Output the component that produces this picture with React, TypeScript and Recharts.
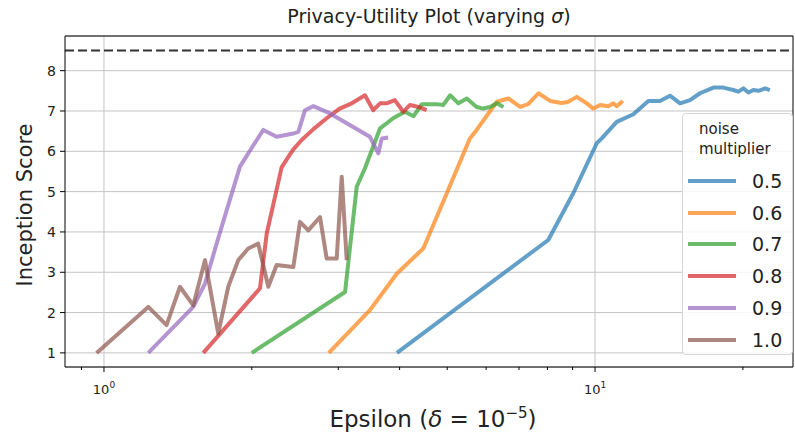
import {
  CartesianGrid,
  Legend,
  Line,
  LineChart,
  ReferenceLine,
  XAxis,
  YAxis,
} from 'recharts'

// epsilon / inception score, one pair of arrays per noise multiplier
const eps05 = [3.95, 8.03, 9.03, 10.08, 10.32, 11.07, 11.97, 12.84, 13.56, 14.21, 14.9, 15.61, 16.36, 17.42, 18.25, 19.12, 19.58, 20.05, 20.53, 21.01, 21.51, 22.2, 22.7]
const is05 = [1.0, 3.8, 4.96, 6.2, 6.32, 6.73, 6.92, 7.25, 7.25, 7.38, 7.19, 7.27, 7.44, 7.58, 7.58, 7.52, 7.48, 7.56, 7.46, 7.52, 7.5, 7.56, 7.52]

const eps06 = [2.87, 3.48, 3.95, 4.47, 4.99, 5.56, 5.74, 6.31, 6.66, 7.04, 7.31, 7.67, 8.1, 8.55, 8.82, 9.18, 9.62, 9.92, 10.24, 10.64, 10.9, 11.07, 11.39]
const is06 = [1.0, 2.06, 2.97, 3.59, 4.96, 6.32, 6.53, 7.23, 7.31, 7.1, 7.17, 7.44, 7.25, 7.2, 7.23, 7.35, 7.19, 7.06, 7.15, 7.12, 7.19, 7.12, 7.25]

const eps07 = [2.0, 3.097, 3.271, 3.4, 3.65, 3.88, 4.1, 4.27, 4.44, 4.76, 4.91, 5.07, 5.27, 5.48, 5.74, 5.92, 6.11, 6.31, 6.51]
const is07 = [1.0, 2.51, 5.12, 5.58, 6.57, 6.82, 6.98, 6.87, 7.17, 7.17, 7.15, 7.39, 7.19, 7.31, 7.1, 7.06, 7.1, 7.19, 7.1]

const eps08 = [1.593, 2.078, 2.145, 2.23, 2.3, 2.374, 2.43, 2.527, 2.67, 2.841, 3.02, 3.196, 3.4, 3.535, 3.65, 3.765, 3.91, 4.07, 4.2, 4.37, 4.54]
const is08 = [1.0, 2.6, 3.96, 4.87, 5.6, 5.86, 6.05, 6.28, 6.55, 6.82, 7.06, 7.19, 7.39, 7.02, 7.19, 7.19, 7.27, 6.98, 7.15, 7.1, 7.02]

const eps09 = [1.231, 1.52, 1.606, 1.696, 1.778, 1.892, 2.015, 2.111, 2.247, 2.43, 2.488, 2.567, 2.67, 2.886, 3.48, 3.62, 3.68, 3.79]
const is09 = [1.0, 2.14, 2.72, 3.71, 4.54, 5.62, 6.15, 6.53, 6.36, 6.44, 6.48, 7.02, 7.12, 6.94, 6.36, 5.95, 6.32, 6.34]

const eps10 = [0.966, 1.231, 1.341, 1.428, 1.52, 1.606, 1.709, 1.791, 1.877, 1.967, 2.061, 2.161, 2.247, 2.43, 2.507, 2.607, 2.754, 2.841, 2.978, 3.049, 3.121]
const is10 = [1.0, 2.14, 1.69, 2.64, 2.18, 3.3, 1.48, 2.64, 3.3, 3.59, 3.71, 2.64, 3.18, 3.13, 4.25, 4.04, 4.37, 3.34, 3.34, 5.37, 3.3]

const noiseLabels = ['0.5', '0.6', '0.7', '0.8', '0.9', '1.0']
const colors = ['#1f77b4', '#ff7f0e', '#2ca02c', '#d62728', '#9467bd', '#8c564b']
const epsSets = [eps05, eps06, eps07, eps08, eps09, eps10]
const isSets = [is05, is06, is07, is08, is09, is10]

const xTicks = [0.9, 1, 2, 3, 4, 5, 6, 7, 8, 9, 10, 20]
const yTicks = [1, 2, 3, 4, 5, 6, 7, 8]
const X_MIN = 0.833
const X_MAX = 25.3
const Y_MIN = 0.65
const Y_MAX = 8.86
const BASELINE = 8.5

const series = noiseLabels.map((label, i) => ({
  label,
  color: colors[i],
  points: epsSets[i].map((x, j) => ({ x, y: isSets[i][j] })),
}))

const FONT = '"DejaVu Sans", sans-serif'

function XTick({ x, y, payload }: any) {
  const v = payload.value
  const major = v === 1 || v === 10
  return (
    <g>
      <line x1={x} x2={x} y1={y} y2={y + (major ? 5 : 3)} stroke="#000" strokeWidth={1} />
      {major && (
        <text x={x} y={y + 27} textAnchor="middle" fontSize={13} fill="#222" fontFamily={FONT}>
          10
          <tspan fontSize={9} dy={-6}>
            {v === 1 ? '0' : '1'}
          </tspan>
        </text>
      )}
    </g>
  )
}

function NoiseLegend() {
  return (
    <div
      style={{
        boxSizing: 'border-box',
        width: 111,
        height: 242,
        border: '1px solid #d6d6d6',
        borderRadius: 4,
        background: 'rgba(255,255,255,0.85)',
        fontFamily: FONT,
        color: '#222',
        padding: '5px 0 0 0',
      }}
    >
      <div style={{ fontSize: 15, lineHeight: '20px', paddingLeft: 16 }}>
        noise
        <br />
        multiplier
      </div>
      <div style={{ marginTop: 6 }}>
        {series.map((s) => (
          <div key={s.label} style={{ display: 'flex', alignItems: 'center', height: 31.8 }}>
            <div style={{ width: 48, height: 4, marginLeft: 5, background: s.color, opacity: 0.7 }} />
            <span style={{ fontSize: 19, marginLeft: 16 }}>{s.label}</span>
          </div>
        ))}
      </div>
    </div>
  )
}

export default function App() {
  return (
    <div style={{ position: 'absolute', left: 0, top: 0, width: 795, height: 437, background: '#fff' }}>
      <div
        style={{
          position: 'absolute',
          left: 65,
          width: 728,
          top: 5,
          textAlign: 'center',
          fontFamily: FONT,
          fontSize: 19,
          color: '#222',
        }}
      >
        Privacy-Utility Plot (varying <i>σ</i>)
      </div>
      <div
        style={{
          position: 'absolute',
          left: 69,
          width: 728,
          top: 404,
          textAlign: 'center',
          fontFamily: FONT,
          fontSize: 23,
          color: '#222',
        }}
      >
        Epsilon (<i>δ</i> = 10<sup style={{ fontSize: 15 }}>−5</sup>)
      </div>
      <div
        style={{
          position: 'absolute',
          left: 25,
          top: 205,
          transform: 'translate(-50%, -50%) rotate(-90deg)',
          whiteSpace: 'nowrap',
          fontFamily: FONT,
          fontSize: 21,
          color: '#222',
        }}
      >
        Inception Score
      </div>
      <LineChart width={795} height={437} margin={{ top: 36, right: 2, bottom: 10, left: 20 }}>
        <CartesianGrid vertical={false} stroke="#c4c4c4" strokeWidth={1} />
        <XAxis
          type="number"
          dataKey="x"
          scale="log"
          domain={[X_MIN, X_MAX]}
          allowDataOverflow
          ticks={xTicks}
          interval={0}
          height={60}
          tickSize={0}
          tickMargin={0}
          tickLine={false}
          axisLine={{ stroke: '#000' }}
          tick={<XTick />}
        />
        <YAxis
          type="number"
          dataKey="y"
          domain={[Y_MIN, Y_MAX]}
          allowDataOverflow
          ticks={yTicks}
          interval={0}
          width={45}
          tickSize={5}
          tickMargin={4}
          tickLine={{ stroke: '#000' }}
          axisLine={{ stroke: '#000' }}
          tick={{ fontSize: 14, fill: '#222', fontFamily: FONT }}
        />
        <ReferenceLine x={1} stroke="#c4c4c4" strokeWidth={1} />
        <ReferenceLine x={10} stroke="#c4c4c4" strokeWidth={1} />
        <ReferenceLine y={Y_MAX} stroke="#000" strokeWidth={1} />
        <ReferenceLine x={X_MAX} stroke="#000" strokeWidth={1} />
        <ReferenceLine y={BASELINE} stroke="#333" strokeWidth={2.2} strokeDasharray="9 4" />
        {series.map((s) => (
          <Line
            key={s.label}
            data={s.points}
            dataKey="y"
            name={s.label}
            type="linear"
            stroke={s.color}
            strokeOpacity={0.7}
            strokeWidth={4}
            strokeLinejoin="round"
            dot={false}
            activeDot={false}
            isAnimationActive={false}
          />
        ))}
        <Legend
          layout="horizontal"
          verticalAlign="middle"
          align="center"
          content={<NoiseLegend />}
          wrapperStyle={{ left: 682, top: 113, width: 111, height: 242 }}
        />
      </LineChart>
    </div>
  )
}
